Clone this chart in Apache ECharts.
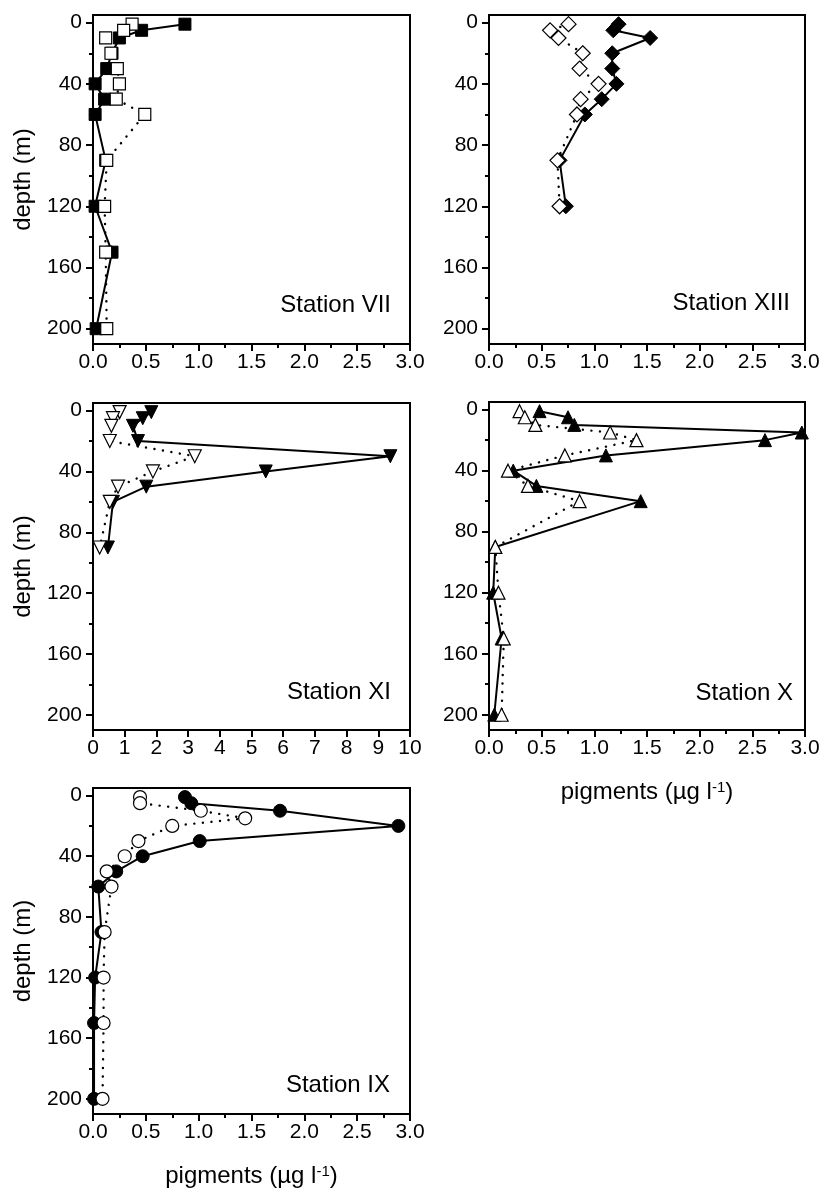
<!DOCTYPE html>
<html>
<head>
<meta charset="utf-8">
<script src="https://cdn.jsdelivr.net/npm/echarts@6/dist/echarts.min.js"></script>
<style>
html,body{margin:0;padding:0;background:#fff;}
#chart{width:823px;height:1190px;}
</style>
</head>
<body>
<div id="chart"></div>
<script>
// ---- Data (depth in m, pigments in µg l-1) ----
const depthTicks = [0, 40, 80, 120, 160, 200];
const depthMinorTicks = [20, 60, 100, 140, 180];

// Station VII (squares)
const vii_depth = [1, 5, 10, 20, 30, 40, 50, 60, 90, 120, 150, 200];
const vii_filled = [0.87, 0.46, 0.25, 0.18, 0.13, 0.02, 0.11, 0.02, 0.12, 0.02, 0.18, 0.03];
const vii_open = [0.37, 0.29, 0.12, 0.17, 0.23, 0.25, 0.22, 0.49, 0.13, 0.11, 0.12, 0.13];

// Station XIII (diamonds)
const xiii_depth = [1, 5, 10, 20, 30, 40, 50, 60, 90, 120];
const xiii_filled = [1.23, 1.18, 1.53, 1.17, 1.17, 1.21, 1.07, 0.91, 0.67, 0.73];
const xiii_open = [0.755, 0.58, 0.66, 0.89, 0.86, 1.04, 0.87, 0.835, 0.65, 0.67];

// Station XI (down triangles)
const xi_depth = [1, 5, 10, 20, 30, 40, 50, 60, 90];
const xi_filled = [1.84, 1.57, 1.26, 1.42, 9.38, 5.45, 1.68, 0.63, 0.47];
const xi_open = [0.84, 0.63, 0.58, 0.53, 3.21, 1.89, 0.79, 0.53, 0.21];

// Station X (up triangles)
const x_depth = [1, 5, 10, 15, 20, 30, 40, 50, 60, 90, 120, 150, 200];
const x_filled = [0.48, 0.75, 0.81, 2.97, 2.62, 1.11, 0.23, 0.45, 1.44, 0.06, 0.04, 0.12, 0.05];
const x_open = [0.29, 0.34, 0.44, 1.15, 1.40, 0.72, 0.18, 0.37, 0.86, 0.06, 0.09, 0.14, 0.12];

// Station IX (circles)
const ix_depth_filled = [1, 5, 10, 20, 30, 40, 50, 60, 90, 120, 150, 200];
const ix_filled = [0.87, 0.93, 1.77, 2.89, 1.01, 0.47, 0.22, 0.05, 0.08, 0.02, 0.01, 0.01];
const ix_depth_open = [1, 5, 10, 15, 20, 30, 40, 50, 60, 90, 120, 150, 200];
const ix_open = [0.445, 0.445, 1.02, 1.44, 0.75, 0.43, 0.30, 0.13, 0.175, 0.11, 0.10, 0.10, 0.09];

const stationNames = ['Station VII', 'Station XIII', 'Station XI', 'Station X', 'Station IX'];
const xTitle = 'pigments (µg l';
const yTitle = 'depth (m)';

// ---- Layout ----
const FONT = '"Liberation Sans", Arial, sans-serif';
function xii(vals, depths) { return vals.map((v, i) => [v, depths[i]]); }
const panels = [
  {left: 93, top: 15, width: 317, height: 329, xmax: 3, xint: 0.5, minor: true, ylabel: true, xname: false,
   filled: xii(vii_filled, vii_depth), open: xii(vii_open, vii_depth), symbol: 'rect', size: 12, rot: 0,
   name: stationNames[0], lx: 391, ly: 305},
  {left: 489, top: 15, width: 316, height: 329, xmax: 3, xint: 0.5, minor: true, ylabel: false, xname: false,
   filled: xii(xiii_filled, xiii_depth), open: xii(xiii_open, xiii_depth), symbol: 'diamond', size: 15, rot: 0,
   name: stationNames[1], lx: 790, ly: 303},
  {left: 93, top: 403, width: 317, height: 327, xmax: 10, xint: 1, minor: false, ylabel: true, xname: false,
   filled: xii(xi_filled, xi_depth), open: xii(xi_open, xi_depth), symbol: 'triangle', size: 13, rot: 180,
   name: stationNames[2], lx: 391, ly: 692},
  {left: 489, top: 402, width: 316, height: 328, xmax: 3, xint: 0.5, minor: true, ylabel: false, xname: true,
   filled: xii(x_filled, x_depth), open: xii(x_open, x_depth), symbol: 'triangle', size: 13, rot: 0,
   name: stationNames[3], lx: 793, ly: 693},
  {left: 93, top: 788, width: 317, height: 326, xmax: 3, xint: 0.5, minor: true, ylabel: true, xname: true,
   filled: xii(ix_filled, ix_depth_filled), open: xii(ix_open, ix_depth_open), symbol: 'circle', size: 13, rot: 0,
   name: stationNames[4], lx: 390, ly: 1085}
];

const grid = [], xAxis = [], yAxis = [], series = [], graphic = [];
panels.forEach((p, i) => {
  grid.push({left: p.left, top: p.top, width: p.width, height: p.height, show: true,
    borderColor: '#000', borderWidth: 2, backgroundColor: 'transparent'});
  xAxis.push({
    type: 'value', gridIndex: i, min: 0, max: p.xmax, interval: p.xint,
    axisLine: {show: true, onZero: false, lineStyle: {color: '#000', width: 2}},
    axisTick: {show: true, length: 7, lineStyle: {color: '#000', width: 2}},
    minorTick: {show: p.minor, splitNumber: 2, length: 4, lineStyle: {color: '#000', width: 2}},
    splitLine: {show: false},
    axisLabel: {color: '#000', fontSize: 21, fontFamily: FONT, margin: 8,
      formatter: v => p.xmax === 10 ? String(v) : v.toFixed(1)},
    name: p.xname ? '{n|' + xTitle + '}{s|-1}{n|)}' : '',
    nameLocation: 'middle', nameGap: 50,
    nameTextStyle: {rich: {
      n: {fontSize: 24, fontFamily: FONT, color: '#000'},
      s: {fontSize: 15, fontFamily: FONT, color: '#000', verticalAlign: 'top', padding: [0, 0, 10, 0]}
    }}
  });
  yAxis.push({
    type: 'value', gridIndex: i, min: -5, max: 210, inverse: true,
    axisLine: {show: true, onZero: false, lineStyle: {color: '#000', width: 2}},
    axisTick: {show: true, length: 7, customValues: depthTicks, lineStyle: {color: '#000', width: 2}},
    splitLine: {show: false},
    axisLabel: {color: '#000', fontSize: 21, fontFamily: FONT, margin: 11, customValues: depthTicks},
    name: p.ylabel ? yTitle : '', nameLocation: 'middle', nameRotate: 90, nameGap: 58,
    nameTextStyle: {fontSize: 24, fontFamily: FONT, color: '#000'}
  });
  yAxis.push({
    type: 'value', gridIndex: i, min: -5, max: 210, inverse: true, position: 'left',
    axisLine: {show: false},
    axisTick: {show: true, length: 4, customValues: depthMinorTicks, lineStyle: {color: '#000', width: 2}},
    splitLine: {show: false},
    axisLabel: {show: false}
  });
  const yIdx = i * 2;
  series.push({
    type: 'line', xAxisIndex: i, yAxisIndex: yIdx, data: p.filled, z: 3,
    symbol: p.symbol, symbolSize: p.size, symbolRotate: p.rot, showAllSymbol: true,
    lineStyle: {color: '#000', width: 2, type: 'solid'},
    itemStyle: {color: '#000', borderColor: '#000', borderWidth: 1},
    emphasis: {disabled: true}, animation: false, clip: false
  });
  series.push({
    type: 'line', xAxisIndex: i, yAxisIndex: yIdx, data: p.open, z: 4,
    symbol: p.symbol, symbolSize: p.size, symbolRotate: p.rot, showAllSymbol: true,
    lineStyle: {color: '#000', width: 2.4, type: [0.1, 8.5], cap: 'round'},
    itemStyle: {color: '#fff', borderColor: '#000', borderWidth: 1.2},
    emphasis: {disabled: true}, animation: false, clip: false
  });
  graphic.push({
    type: 'text', x: p.lx, y: p.ly, z: 10,
    style: {text: p.name, fill: '#000', font: '24px ' + FONT,
      align: 'right', verticalAlign: 'middle', textAlign: 'right', textVerticalAlign: 'middle'}
  });
});

const chart = echarts.init(document.getElementById('chart'), null, {renderer: 'canvas'});
chart.setOption({
  backgroundColor: '#fff',
  animation: false,
  grid, xAxis, yAxis, series, graphic
});
</script>
</body>
</html>
